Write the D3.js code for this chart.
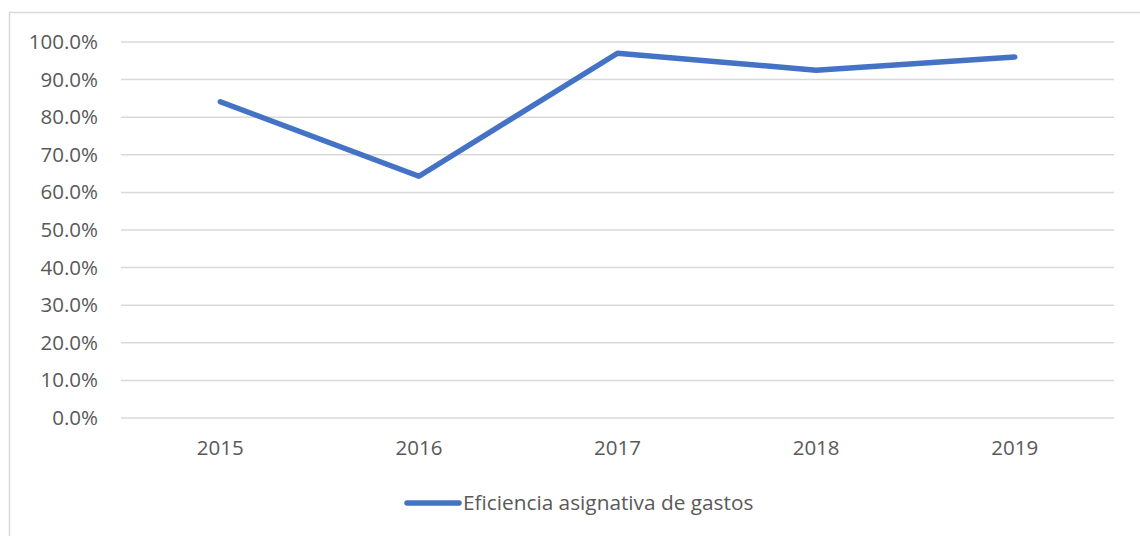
<!DOCTYPE html>
<html>
<head>
<meta charset="utf-8">
<script src="https://cdn.jsdelivr.net/npm/d3@7"></script>
<style>
  body { margin: 0; background: #fff; }
  text { font-family: "Open Sans", "Liberation Sans", sans-serif; fill: #595959; }
</style>
</head>
<body>
<div id="chart"></div>
<script>
// data
var years = ["2015", "2016", "2017", "2018", "2019"];
var eficiencia = [0.841, 0.643, 0.970, 0.925, 0.960];
var yTicks = [0, 0.1, 0.2, 0.3, 0.4, 0.5, 0.6, 0.7, 0.8, 0.9, 1.0];
var seriesName = "Eficiencia asignativa de gastos";

var W = 1140, H = 536;
var margin = {top: 42, right: 26, bottom: 118, left: 121},
  width = W - margin.left - margin.right,
  height = H - margin.top - margin.bottom;

var svg = d3.select("#chart")
  .append("svg")
  .attr("width", W)
  .attr("height", H);

// chart frame
svg.append("rect")
  .attr("x", 9.5).attr("y", 12.5)
  .attr("width", W + 10).attr("height", H + 10)
  .attr("fill", "none")
  .attr("stroke", "#d9d9d9")
  .attr("stroke-width", 1.5);

var g = svg.append("g")
  .attr("transform", "translate(" + margin.left + "," + margin.top + ")");

var x = d3.scaleBand()
  .domain(years)
  .range([0, width]);

var y = d3.scaleLinear()
  .domain([0, 1])
  .range([height, 0]);

// gridlines
g.append("g")
  .selectAll("line")
  .data(yTicks)
  .enter()
  .append("line")
  .attr("x1", 0)
  .attr("x2", width)
  .attr("y1", function (d) { return y(d); })
  .attr("y2", function (d) { return y(d); })
  .attr("stroke", "#d9d9d9")
  .attr("stroke-width", 1.5);

// y axis labels
var yAxis = g.append("g")
  .call(d3.axisLeft(y).tickValues(yTicks).tickFormat(d3.format(".1%")).tickSize(0).tickPadding(23));
yAxis.select(".domain").remove();
yAxis.selectAll("text")
  .style("font-size", "20.5px")
  .attr("fill", "#595959");

// x axis labels
var xAxis = g.append("g")
  .attr("transform", "translate(0," + height + ")")
  .call(d3.axisBottom(x).tickSize(0).tickPadding(22));
xAxis.select(".domain").remove();
xAxis.selectAll("text")
  .style("font-size", "20.5px")
  .attr("fill", "#595959");

// the line
g.append("path")
  .datum(eficiencia)
  .attr("fill", "none")
  .attr("stroke", "#4472c4")
  .attr("stroke-width", 5.5)
  .attr("stroke-linecap", "round")
  .attr("stroke-linejoin", "round")
  .attr("d", d3.line()
    .x(function (d, i) { return x(years[i]) + x.bandwidth() / 2; })
    .y(function (d) { return y(d); })
  );

// legend
var legend = svg.append("g")
  .attr("transform", "translate(405,503)");
legend.append("line")
  .attr("x1", 2).attr("x2", 54)
  .attr("stroke", "#4472c4")
  .attr("stroke-width", 5.5)
  .attr("stroke-linecap", "round");
legend.append("text")
  .attr("x", 58)
  .attr("y", 0)
  .attr("dy", "0.35em")
  .style("font-size", "20.8px")
  .text(seriesName);
</script>
</body>
</html>
